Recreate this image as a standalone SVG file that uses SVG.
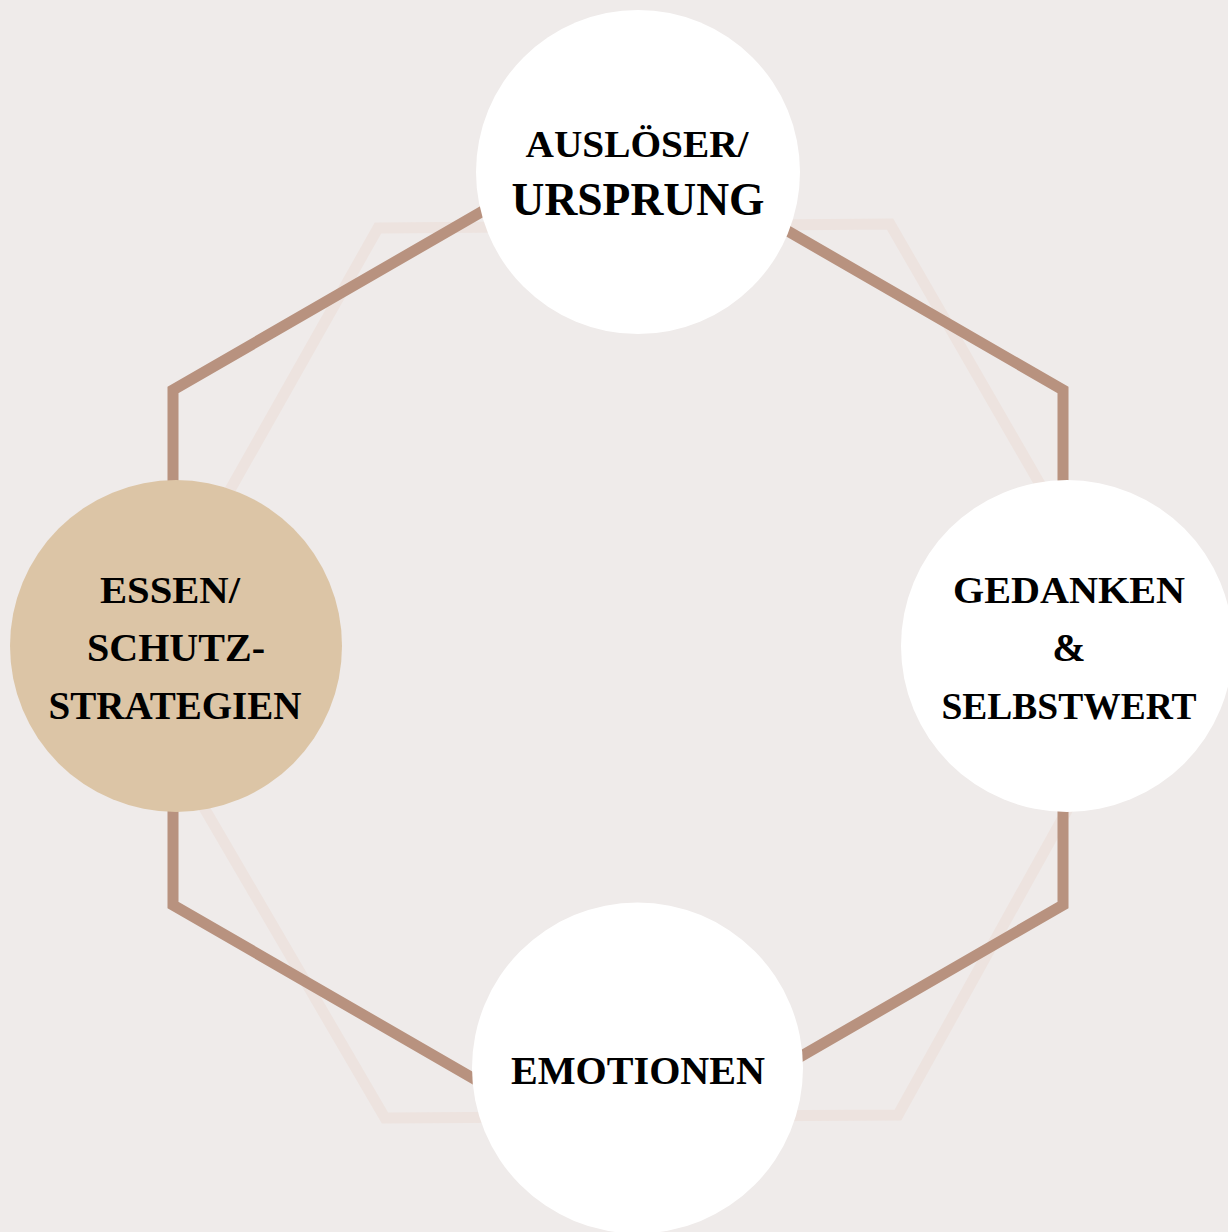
<svg xmlns="http://www.w3.org/2000/svg" width="1228" height="1232" viewBox="0 0 1228 1232">
<style>
.lbl{font-family:"Liberation Serif","DejaVu Serif",serif;font-weight:bold;fill:#000;text-anchor:middle}
.node{fill:#ffffff}
</style>
<rect width="1228" height="1232" fill="#efebea"/>
<g id="connectors" fill="none" stroke-linejoin="miter">
<polygon id="back-hexagon" points="378,228 890,224 1146,668 898,1115 385,1118 126,674" stroke="#ede3df" stroke-width="11"/>
<polygon id="cycle" points="618,133 1063,390 1063,905 618,1162 173,905 173,390" stroke="#b8927f" stroke-width="11"/>
</g>
<g id="node-ausloeser">
<circle class="node" cx="638" cy="172" r="162"/>
<text class="lbl" x="637" y="157" font-size="38" textLength="223" lengthAdjust="spacingAndGlyphs">AUSLÖSER/</text>
<text class="lbl" x="638" y="215" font-size="46" textLength="253" lengthAdjust="spacingAndGlyphs">URSPRUNG</text>
</g>
<g id="node-gedanken">
<circle class="node" cx="1067" cy="646" r="166"/>
<text class="lbl" x="1069" y="603" font-size="38" textLength="232" lengthAdjust="spacingAndGlyphs">GEDANKEN</text>
<text class="lbl" x="1069" y="661" font-size="40">&amp;</text>
<text class="lbl" x="1069" y="719" font-size="38" textLength="255" lengthAdjust="spacingAndGlyphs">SELBSTWERT</text>
</g>
<g id="node-emotionen">
<circle class="node" cx="637.5" cy="1068" r="165.5"/>
<text class="lbl" x="638" y="1084" font-size="39" textLength="254" lengthAdjust="spacingAndGlyphs">EMOTIONEN</text>
</g>
<g id="node-essen">
<circle cx="176" cy="646" r="166" fill="#dcc5a6"/>
<text class="lbl" x="170" y="603" font-size="38" textLength="140" lengthAdjust="spacingAndGlyphs">ESSEN/</text>
<text class="lbl" x="176" y="661" font-size="40" textLength="178" lengthAdjust="spacingAndGlyphs">SCHUTZ-</text>
<text class="lbl" x="175" y="719" font-size="39" textLength="253" lengthAdjust="spacingAndGlyphs">STRATEGIEN</text>
</g>
</svg>
